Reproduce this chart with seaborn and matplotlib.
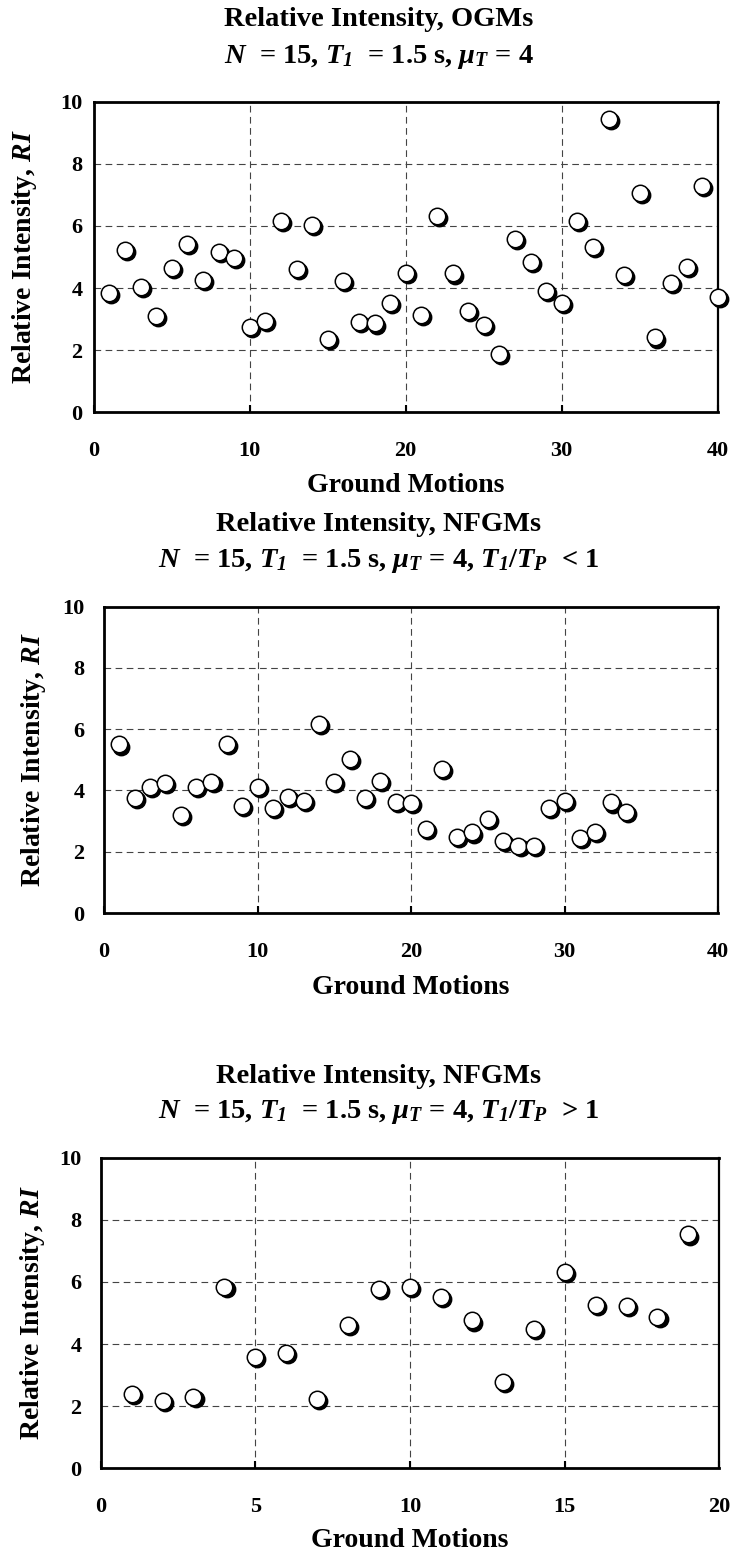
import numpy as np
import pandas as pd
import matplotlib
matplotlib.use("Agg")
import matplotlib.pyplot as plt
from matplotlib.transforms import ScaledTranslation
import seaborn as sns

# ---------------- data ----------------
ogm_ri = [3.83, 5.23, 4.04, 3.11, 4.64, 5.41, 4.26, 5.17, 4.96, 2.74,
          2.93, 6.16, 4.61, 6.03, 2.35, 4.23, 2.92, 2.86, 3.53, 4.50,
          3.13, 6.32, 4.47, 3.27, 2.81, 1.88, 5.57, 4.83, 3.91, 3.51,
          6.16, 5.33, 9.44, 4.42, 7.05, 2.41, 4.15, 4.69, 7.29, 3.72]
nfgm_lt1_ri = [5.50, 3.77, 4.12, 4.23, 3.19, 4.12, 4.28, 5.51, 3.49, 4.12,
               3.42, 3.80, 3.66, 6.18, 4.28, 5.02, 3.76, 4.32, 3.63, 3.60,
               2.75, 4.70, 2.47, 2.63, 3.07, 2.35, 2.20, 2.20, 3.44, 3.66,
               2.46, 2.64, 3.61, 3.29]
nfgm_gt1_ri = [2.40, 2.17, 2.29, 5.84, 3.58, 3.71, 2.22, 4.61, 5.78, 5.83,
               5.52, 4.76, 2.77, 4.48, 6.32, 5.26, 5.23, 4.88, 7.53]

title_line1 = ["Relative Intensity, OGMs",
               "Relative Intensity, NFGMs",
               "Relative Intensity, NFGMs"]
title_line2 = [r"$N$  = 15, $T_{\mathsf{1}}$  = 1.5 s, $\mu_{T}$ = 4",
               r"$N$  = 15, $T_{\mathsf{1}}$  = 1.5 s, $\mu_{T}$ = 4, $T_{\mathsf{1}}/T_{P}$  < 1",
               r"$N$  = 15, $T_{\mathsf{1}}$  = 1.5 s, $\mu_{T}$ = 4, $T_{\mathsf{1}}/T_{P}$  > 1"]
x_label = "Ground Motions"
y_label = r"Relative Intensity, $RI$"
x_ticks = [[0, 10, 20, 30, 40], [0, 10, 20, 30, 40], [0, 5, 10, 15, 20]]
y_ticks = [0, 2, 4, 6, 8, 10]

# ---------------- style ----------------
sns.set_style("white")
plt.rcParams["font.family"] = ["Liberation Serif", "DejaVu Serif"]
plt.rcParams["font.weight"] = "bold"
plt.rcParams["text.color"] = "black"
plt.rcParams["axes.labelcolor"] = "black"
plt.rcParams["xtick.color"] = "black"
plt.rcParams["ytick.color"] = "black"
plt.rcParams["mathtext.fontset"] = "custom"
plt.rcParams["mathtext.rm"] = "Liberation Serif:bold"
plt.rcParams["mathtext.bf"] = "Liberation Serif:bold"
plt.rcParams["mathtext.it"] = "Liberation Serif:italic:bold"
plt.rcParams["mathtext.sf"] = "Liberation Serif:italic:bold"

W, H = 734, 1553
fig = plt.figure(figsize=(W / 100, H / 100), dpi=100)

# pixel geometry of each panel: left, right, top, bottom
panels = [
    dict(data=ogm_ri, box=(93.7, 717.7, 101.7, 412.3), t1=26, t2=62.7,
         ypad=8, ylab_x=25, xlab_base=79.5),
    dict(data=nfgm_lt1_ri, box=(104.0, 718.0, 606.5, 913.1), t1=531, t2=566.7,
         ypad=14, ylab_x=33, xlab_base=81),
    dict(data=nfgm_gt1_ri, box=(100.7, 719.3, 1157.7, 1468.3), t1=1083.3, t2=1118.3,
         ypad=14, ylab_x=32, xlab_base=78.5),
]

for i, p in enumerate(panels):
    l, r, t, b = p["box"]
    ax = fig.add_axes([l / W, 1 - b / H, (r - l) / W, (b - t) / H])
    vals = p["data"]
    df = pd.DataFrame({"gm": np.arange(1, len(vals) + 1), "ri": vals})

    shadow = ax.transData + ScaledTranslation(1.5 / 72, -1.5 / 72, fig.dpi_scale_trans)
    sns.scatterplot(data=df, x="gm", y="ri", ax=ax, s=140, color="black",
                    edgecolor="black", linewidth=1.0, transform=shadow,
                    clip_on=False, zorder=3, legend=False)
    sns.scatterplot(data=df, x="gm", y="ri", ax=ax, s=140, color="white",
                    edgecolor="black", linewidth=1.1, clip_on=False,
                    zorder=4, legend=False)

    ax.set_xlim(x_ticks[i][0], x_ticks[i][-1])
    ax.set_ylim(0, 10)
    ax.set_xticks(x_ticks[i])
    ax.set_yticks(y_ticks)
    ax.grid(True, linestyle=(0, (6, 4)), color="#444444", linewidth=0.8)
    ax.set_axisbelow(True)
    for s in ["left", "bottom", "top"]:
        ax.spines[s].set_linewidth(2.0)
        ax.spines[s].set_color("black")
    ax.spines["right"].set_linewidth(1.6)
    ax.spines["right"].set_color("black")

    ax.tick_params(axis="x", direction="in", length=5, width=1.5, pad=20.5,
                   labelsize=16, colors="black", bottom=True)
    ax.tick_params(axis="y", length=0, pad=p["ypad"], labelsize=16,
                   colors="black", left=True)
    for lab in ax.get_xticklabels() + ax.get_yticklabels():
        lab.set_fontweight("bold")

    ax.set_xlabel(x_label, fontsize=20, fontweight="bold", color="black")
    ax.xaxis.set_label_coords(0.5, -p["xlab_base"] / (b - t))
    ax.xaxis.label.set_va("baseline")
    ax.set_ylabel(y_label, fontsize=20, fontweight="bold", color="black")
    ax.yaxis.set_label_coords((p["ylab_x"] - l) / (r - l), 0.5)
    ax.yaxis.label.set_va("center")

    fig.text(379 / W, 1 - p["t1"] / H, title_line1[i], ha="center",
             va="baseline", fontsize=20.5, fontweight="bold", color="black")
    fig.text(379 / W, 1 - p["t2"] / H, title_line2[i], ha="center",
             va="baseline", fontsize=20.5, fontweight="bold", color="black")

fig.savefig("out.png", dpi=100)
